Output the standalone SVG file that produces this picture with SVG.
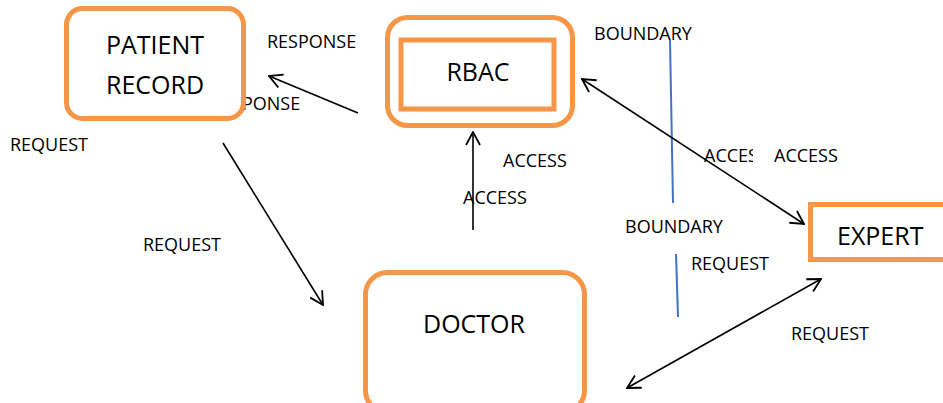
<svg xmlns="http://www.w3.org/2000/svg" width="943" height="403" viewBox="0 0 943 403">
<style>
text{font-family:"Open Sans","Noto Sans",sans-serif;fill:#000}
.lbl{font-size:18px}
.big{font-size:25px}
.box{fill:#fff;stroke:#F79646;stroke-width:5}
.conn{stroke:#000;stroke-width:1.6;fill:none}
.bnd{stroke:#4472C4;stroke-width:2;fill:none}
</style>
<defs>
<marker id="ah" markerUnits="userSpaceOnUse" viewBox="0 0 16 16" refX="15" refY="8" markerWidth="16" markerHeight="16" orient="auto-start-reverse">
<path d="M2,1 L15,8 L2,15" fill="none" stroke="#000" stroke-width="1.8"/>
</marker>
<clipPath id="cl"><rect x="690" y="140" width="63" height="30"/></clipPath>
</defs>
<rect width="943" height="403" fill="#fff"/>
<g id="labels">
<text class="lbl" x="211" y="110">RESPONSE</text>
<text class="lbl" x="267" y="48">RESPONSE</text>
<text class="lbl" x="10" y="151">REQUEST</text>
<text class="lbl" x="143" y="251">REQUEST</text>
<text class="lbl" x="503" y="167">ACCESS</text>
<text class="lbl" x="463" y="204">ACCESS</text>
<text class="lbl" x="594" y="40">BOUNDARY</text>
<text class="lbl" x="704" y="162" clip-path="url(#cl)">ACCESS</text>
<text class="lbl" x="774" y="162">ACCESS</text>
<text class="lbl" x="625" y="233">BOUNDARY</text>
<text class="lbl" x="691" y="270">REQUEST</text>
<text class="lbl" x="791" y="340">REQUEST</text>
</g>
<g id="patient-record">
<rect class="box" x="66.5" y="8.5" width="177" height="110" rx="16"/>
<text class="big" x="155" y="54" text-anchor="middle">PATIENT</text>
<text class="big" x="155" y="94" text-anchor="middle">RECORD</text>
</g>
<g id="rbac">
<rect class="box" x="387.5" y="17.5" width="185" height="108" rx="20"/>
<rect class="box" x="401" y="40" width="153" height="69" stroke-width="4.5"/>
<text class="big" x="478" y="81" text-anchor="middle">RBAC</text>
</g>
<g id="expert">
<rect class="box" x="810.5" y="204.5" width="145" height="55"/>
<text class="big" x="837" y="245">EXPERT</text>
</g>
<g id="doctor">
<rect class="box" x="365.5" y="272.5" width="219" height="140" rx="22"/>
<text class="big" x="474" y="333" text-anchor="middle">DOCTOR</text>
</g>
<g id="boundary">
<line class="bnd" x1="670" y1="40" x2="673" y2="203"/>
<line class="bnd" x1="676" y1="254" x2="678" y2="317"/>
</g>
<g id="connectors">
<line class="conn" x1="358" y1="113" x2="269" y2="76" marker-end="url(#ah)"/>
<line class="conn" x1="223" y1="143" x2="323" y2="305" marker-end="url(#ah)"/>
<line class="conn" x1="473" y1="230" x2="473" y2="132" marker-end="url(#ah)"/>
<line class="conn" x1="582" y1="79" x2="804" y2="224" marker-start="url(#ah)" marker-end="url(#ah)"/>
<line class="conn" x1="627" y1="388" x2="821" y2="279" marker-start="url(#ah)" marker-end="url(#ah)"/>
</g>
</svg>
